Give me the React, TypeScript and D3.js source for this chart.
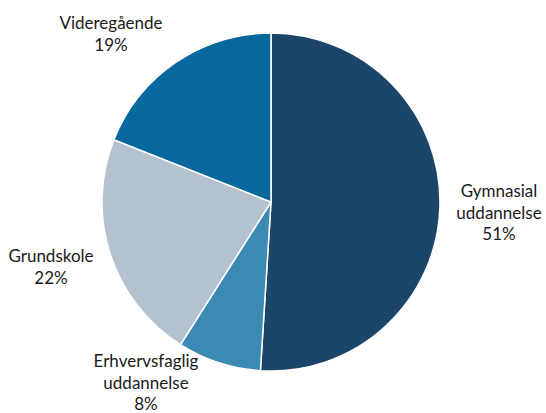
import React from "react";
import * as d3 from "d3";

const categories = ["Gymnasial uddannelse", "Erhvervsfaglig uddannelse", "Grundskole", "Videregående"];
const values = [51, 8, 22, 19];
const labelLines = [["Gymnasial", "uddannelse", "51%"], ["Erhvervsfaglig", "uddannelse", "8%"], ["Grundskole", "22%"], ["Videregående", "19%"]];
const colors = ["#1c4669", "#3a8ab4", "#b4c2d0", "#08679c"];
const labelPos = [[499, 197], [146, 367], [51, 262], [111, 29]];

export default function App() {
  const W = 546, H = 413;
  const cx = 271, cy = 202, r = 169;
  const data = categories.map((c, i) => ({ c, v: values[i], i }));
  const pie = d3.pie<any>().sort(null).value((d) => d.v);
  const arc = d3.arc<any>().innerRadius(0).outerRadius(r);
  const arcs = pie(data);
  return (
    <svg width={W} height={H} style={{ position: "absolute", left: 0, top: 0 }}>
      <rect width={W} height={H} fill="#fff" />
      <g transform={`translate(${cx},${cy})`}>
        {arcs.map((a, i) => (
          <path key={i} d={arc(a) || ""} fill={colors[i]} stroke="#fff" strokeWidth={1.5} />
        ))}
      </g>
      {labelLines.map((lines, i) => (
        <text key={i} textAnchor="middle" fontFamily="Lato, 'Open Sans', sans-serif" fontSize={17} fill="#1a1a1a">
          {lines.map((l, j) => (
            <tspan key={j} x={labelPos[i][0]} y={labelPos[i][1] + j * 21.5}>{l}</tspan>
          ))}
        </text>
      ))}
    </svg>
  );
}
